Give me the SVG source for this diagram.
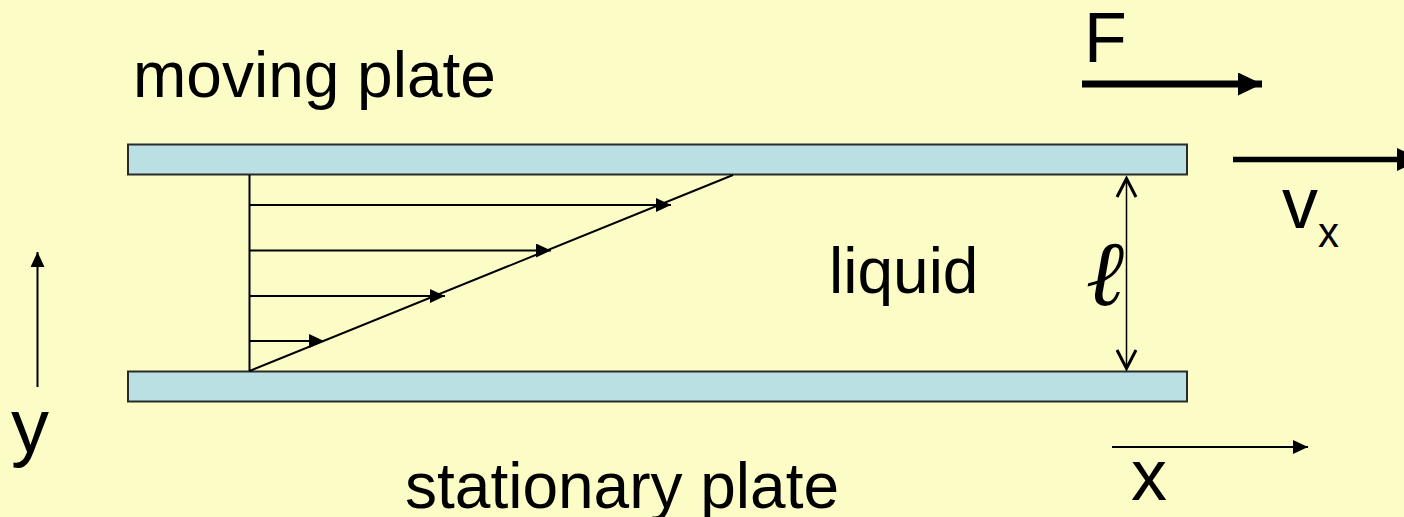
<svg xmlns="http://www.w3.org/2000/svg" width="1404" height="517" viewBox="0 0 1404 517">
<defs>
<style>
.bg{fill:#FBFCC6}
.plate{fill:#BAE0E3;stroke:#2a2a2a;stroke-width:2}
.t{font-family:"Liberation Sans",Arial,sans-serif;fill:#000}
.ln{stroke:#000;stroke-width:2;fill:none}
.thin{stroke:#000;stroke-width:1.5;fill:none}
.chev{stroke:#000;stroke-width:3;fill:none;stroke-linejoin:miter}
</style>
<marker id="ah" viewBox="0 0 15 14" refX="15" refY="7" markerWidth="15" markerHeight="14" markerUnits="userSpaceOnUse" orient="auto">
<path d="M0,0 L15,7 L0,14 Z" fill="#000"/>
</marker>
<marker id="ahBig" viewBox="0 0 24 23" refX="24" refY="11.5" markerWidth="24" markerHeight="23" markerUnits="userSpaceOnUse" orient="auto">
<path d="M0,0 L24,11.5 L0,23 Z" fill="#000"/>
</marker>
</defs>
<rect class="bg" x="0" y="0" width="1404" height="517"/>

<g id="top-plate">
<rect class="plate" x="128" y="144.5" width="1059" height="30"/>
</g>
<g id="bottom-plate">
<rect class="plate" x="128" y="371.5" width="1059" height="30"/>
</g>

<g id="connectors">
<line class="ln" x1="249.5" y1="175" x2="249.5" y2="371"/>
<line class="ln" x1="249.5" y1="371" x2="733" y2="175"/>
<line class="ln" x1="249.5" y1="205" x2="671" y2="205" marker-end="url(#ah)"/>
<line class="ln" x1="249.5" y1="250.5" x2="551" y2="250.5" marker-end="url(#ah)"/>
<line class="ln" x1="249.5" y1="296" x2="445" y2="296" marker-end="url(#ah)"/>
<line class="ln" x1="249.5" y1="341" x2="324" y2="341" marker-end="url(#ah)"/>
<line class="ln" x1="37.5" y1="387" x2="37.5" y2="252" marker-end="url(#ah)"/>
<line class="ln" x1="1112" y1="447" x2="1308" y2="447" marker-end="url(#ah)"/>
<line stroke="#000" stroke-width="7" x1="1082" y1="84" x2="1262" y2="84" marker-end="url(#ahBig)"/>
<line stroke="#000" stroke-width="5.5" x1="1233" y1="159.5" x2="1421" y2="159.5" marker-end="url(#ahBig)"/>
<line class="thin" x1="1126.5" y1="178" x2="1126.5" y2="369"/>
<polyline class="chev" points="1117,197 1126.5,178.5 1136,197"/>
<polyline class="chev" points="1117,350 1126.5,368.5 1136,350"/>
</g>

<g id="label-moving">
<text class="t" x="133" y="97" font-size="64">moving plate</text>
</g>
<g id="label-stationary">
<text class="t" x="405" y="508" font-size="64">stationary plate</text>
</g>
<g id="label-liquid">
<text class="t" x="829" y="293" font-size="64">liquid</text>
</g>
<g id="label-F">
<text class="t" x="1084" y="62" font-size="70">F</text>
</g>
<g id="label-vx">
<text class="t" x="1282" y="228" font-size="72">v</text>
<text class="t" x="1318" y="247" font-size="42">x</text>
</g>
<g id="label-x">
<text class="t" x="1131" y="500" font-size="72">x</text>
</g>
<g id="label-y">
<text class="t" x="11" y="452" font-size="76">y</text>
</g>
<g id="label-ell">
<text x="1105" y="305" font-size="92" font-family="'Liberation Serif','DejaVu Serif',serif" font-style="italic" text-anchor="middle">ℓ</text>
</g>
</svg>
